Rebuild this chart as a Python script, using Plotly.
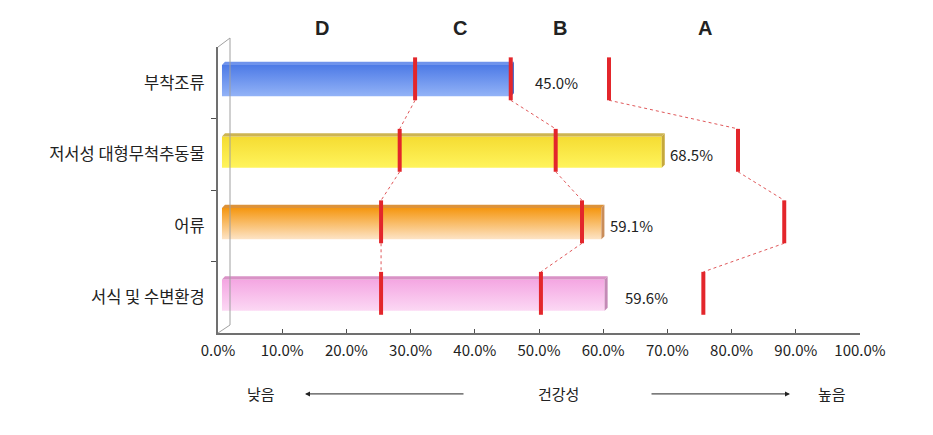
import plotly.graph_objects as go

# ---------------- data ----------------
categories = ["부착조류", "저서성 대형무척추동물", "어류", "서식 및 수변환경"]
values = [45.0, 68.5, 59.1, 59.6]
bound_dc = [30.7, 28.3, 25.4, 25.4]   # D | C boundary
bound_cb = [45.6, 52.6, 56.7, 50.3]   # C | B boundary
bound_ba = [60.9, 81.0, 88.2, 75.6]   # B | A boundary
grade_labels = ["D", "C", "B", "A"]
x_ticks = [0, 10, 20, 30, 40, 50, 60, 70, 80, 90, 100]
bottom_labels = ["낮음", "건강성", "높음"]

# ---------------- style ----------------
FONT = "Noto Sans CJK KR"
front_grad = [("#93b3f7", "#4d7ae6"), ("#fff45c", "#f5dc32"),
              ("#fde4c6", "#f5960f"), ("#fcd8f4", "#f4a6e2")]
top_col = ["#6f93ec", "#cdb452", "#dc923a", "#d992c6"]
side_col = ["#3d60c2", "#c6a83c", "#c98d5a", "#c48ab6"]
label_off = [4.1, 1.6, 1.6, 3.5]
grade_x = [16.2, 37.7, 53.3, 75.9]
RED = "#e3262b"

s, d = 0.62, 0.47       # x depth offsets (%)
dy, h, e = -0.03, 0.22, 0.042
mdy, mh = -0.055, 0.30

fig = go.Figure()
ys = list(range(len(categories)))

for i, (c, v) in enumerate(zip(ys, values)):
    yt = c + dy - h
    yb = c + dy + h
    # front face (gradient)
    fig.add_trace(go.Scatter(
        x=[s, v + s, v + s, s, s], y=[yt, yt, yb, yb, yt],
        mode="none", fill="toself",
        fillgradient=dict(type="vertical",
                          colorscale=[[0, front_grad[i][0]], [1, front_grad[i][1]]]),
        hoverinfo="skip", showlegend=False))
    # top face
    fig.add_trace(go.Scatter(
        x=[s, s + d, v + s + d, v + s, s], y=[yt, yt - e, yt - e, yt, yt],
        mode="none", fill="toself", fillcolor=top_col[i],
        hoverinfo="skip", showlegend=False))
    # side face
    fig.add_trace(go.Scatter(
        x=[v + s, v + s + d, v + s + d, v + s, v + s], y=[yt, yt - e, yb - e, yb, yt],
        mode="none", fill="toself", fillcolor=side_col[i],
        hoverinfo="skip", showlegend=False))

# dotted connectors between boundary markers
for bounds in (bound_dc, bound_cb, bound_ba):
    cx, cy = [], []
    for i in range(len(ys) - 1):
        cx += [bounds[i], bounds[i + 1], None]
        cy += [ys[i] + mdy + mh, ys[i + 1] + mdy - mh, None]
    fig.add_trace(go.Scatter(x=cx, y=cy, mode="lines",
                             line=dict(color="#e0585a", width=1, dash="dot"),
                             hoverinfo="skip", showlegend=False))
    mx, my = [], []
    for i in range(len(ys)):
        mx += [bounds[i], bounds[i], None]
        my += [ys[i] + mdy - mh, ys[i] + mdy + mh, None]
    fig.add_trace(go.Scatter(x=mx, y=my, mode="lines",
                             line=dict(color=RED, width=4),
                             hoverinfo="skip", showlegend=False))

annotations = []
for i, v in enumerate(values):
    annotations.append(dict(x=v + label_off[i], y=ys[i], xref="x", yref="y",
                            text=f"{v:.1f}%", showarrow=False, xanchor="left",
                            yanchor="middle", font=dict(family=FONT, size=15, color="#222")))
for g, gx in zip(grade_labels, grade_x):
    annotations.append(dict(x=gx, y=1.066, xref="x", yref="paper", text=f"<b>{g}</b>",
                            showarrow=False, yanchor="middle",
                            font=dict(family="Liberation Sans", size=20, color="#222")))
# bottom legend row
bx = [(245 - 218) / 642, (558 - 218) / 642, (848 - 218) / 642]
for t, x in zip(bottom_labels, bx):
    annotations.append(dict(x=x, y=-0.21, xref="paper", yref="paper", text=t,
                            showarrow=False, yanchor="middle",
                            font=dict(family=FONT, size=15, color="#222")))
annotations.append(dict(x=(305 - 218) / 642, y=-0.213, xref="paper", yref="paper", text="",
                        showarrow=True, ax=160, ay=0, axref="pixel", ayref="pixel",
                        arrowhead=2, arrowsize=1, arrowwidth=1, arrowcolor="#222"))
annotations.append(dict(x=(790 - 218) / 642, y=-0.213, xref="paper", yref="paper", text="",
                        showarrow=True, ax=-140, ay=0, axref="pixel", ayref="pixel",
                        arrowhead=2, arrowsize=1, arrowwidth=1, arrowcolor="#222"))

shapes = [
    # back wall lines
    dict(type="line", xref="x", yref="paper", x0=1.87, x1=1.87, y0=(333 - 325) / 286, y1=(333 - 38) / 286,
         line=dict(color="#a0a0a0", width=1)),
    dict(type="line", xref="x", yref="paper", x0=0, x1=1.87, y0=0, y1=(333 - 325) / 286,
         line=dict(color="#a0a0a0", width=1)),
    dict(type="line", xref="x", yref="paper", x0=0, x1=1.87, y0=1, y1=(333 - 38) / 286,
         line=dict(color="#a0a0a0", width=1)),
]

fig.update_layout(
    width=933, height=435,
    margin=dict(l=218, r=73, t=47, b=102),
    paper_bgcolor="white", plot_bgcolor="white",
    font=dict(family=FONT, size=14, color="#222"),
    annotations=annotations, shapes=shapes,
    xaxis=dict(range=[0, 100], tickvals=x_ticks, ticktext=[f"{t:.1f}%" for t in x_ticks],
               showgrid=False, zeroline=False, showline=True, linecolor="#707070", linewidth=2,
               ticks="inside", ticklen=4, tickcolor="#505050", ticklabelstandoff=3,
               tickfont=dict(family=FONT, size=15, color="#222")),
    yaxis=dict(range=[3.5, -0.5], tickvals=ys, ticktext=categories,
               showgrid=False, zeroline=False, showline=True, linecolor="#707070", linewidth=2,
               ticks="", ticklabelstandoff=8,
               minor=dict(tickvals=[0.5, 1.5, 2.5], ticks="outside", ticklen=5, tickcolor="#505050"),
               tickfont=dict(family=FONT, size=16.5, color="#222")),
)

fig.write_html("out.html")
